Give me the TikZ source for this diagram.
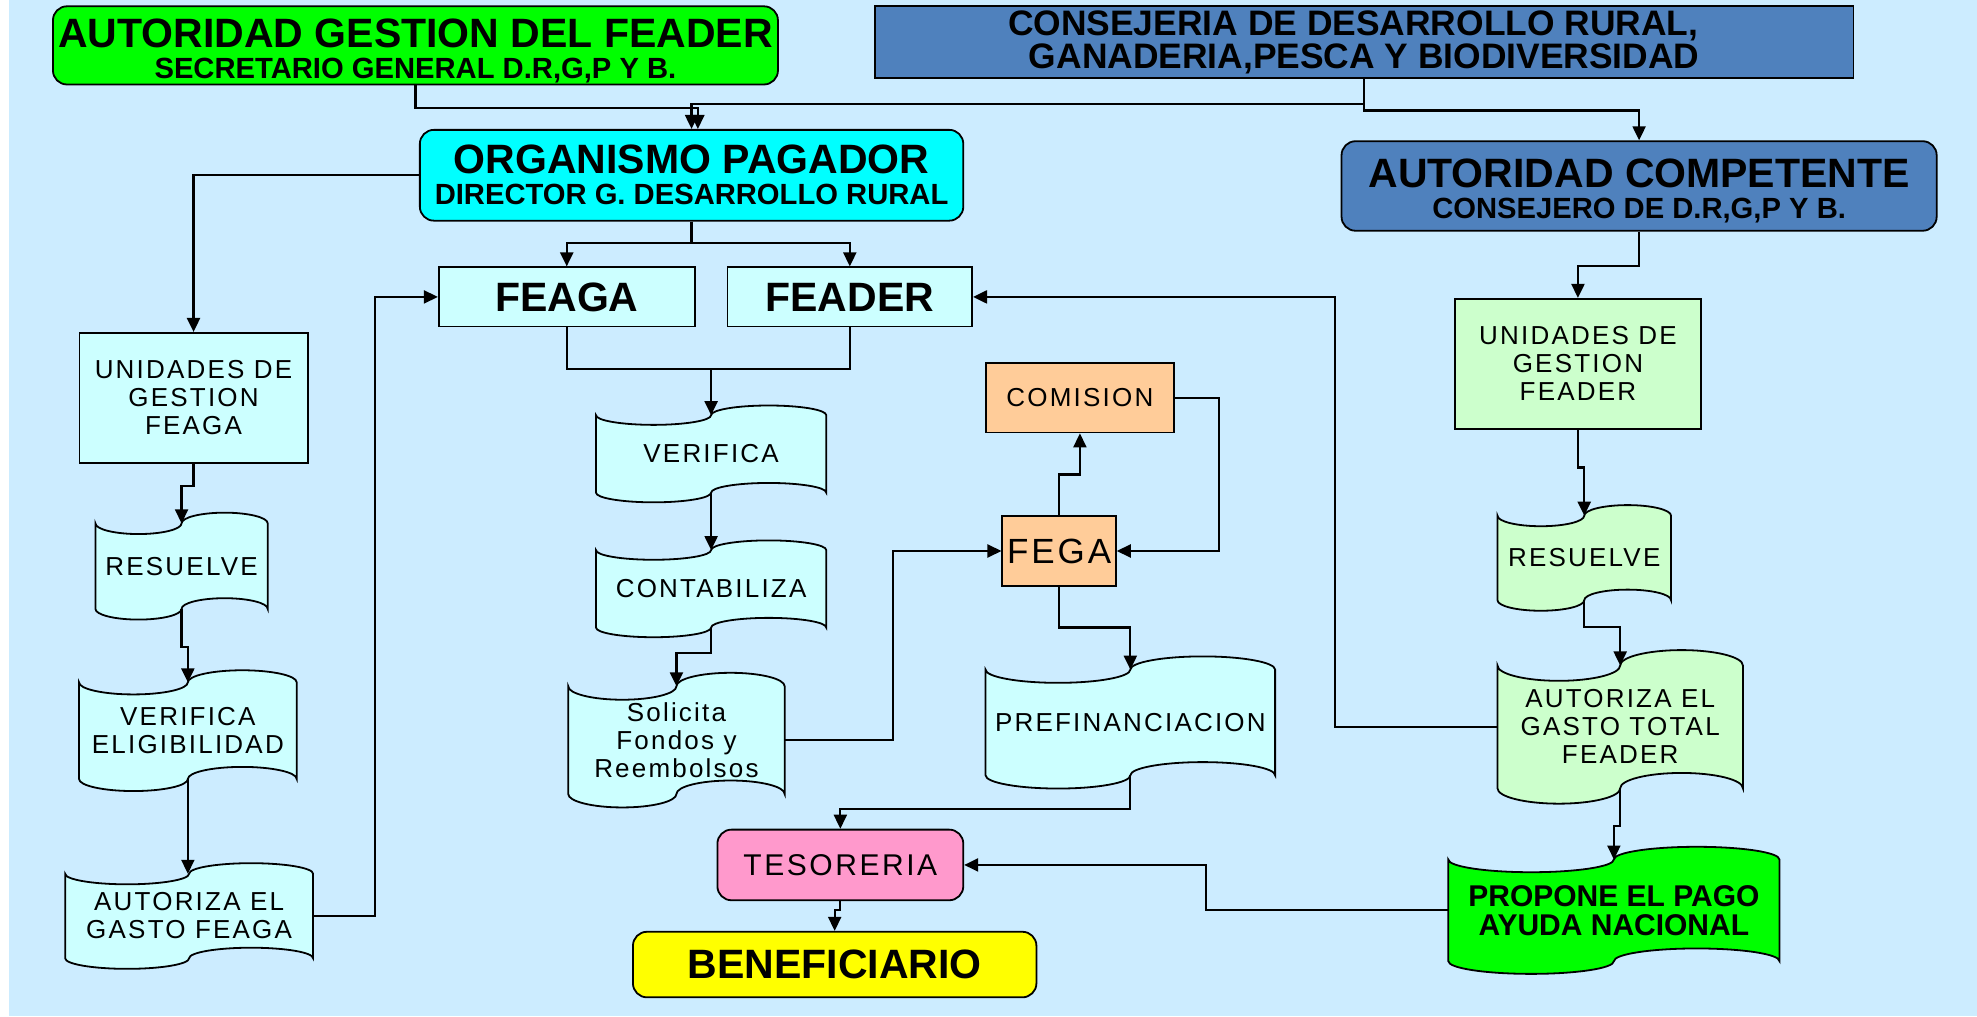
\documentclass[tikz,border=0pt]{standalone}
\usepackage{fontspec}
\setmainfont{Liberation Sans}
\newfontfamily\reg[LetterSpace=8.5]{Liberation Sans}
\usetikzlibrary{arrows.meta,calc}
\definecolor{bgblue}{HTML}{CCECFF}
\definecolor{ltcyan}{HTML}{CCFFFF}
\definecolor{ltgreen}{HTML}{CCFFCC}
\definecolor{peach}{HTML}{FFCC99}
\definecolor{pinkc}{HTML}{FF99CC}
\definecolor{steel}{HTML}{4F81BD}
\definecolor{brgreen}{HTML}{00FF00}
\definecolor{brcyan}{HTML}{00FFFF}
\definecolor{bryellow}{HTML}{FFFF00}
\newlength\px \setlength\px{0.6305pt}
\pgfdeclarelayer{bg}\pgfdeclarelayer{shapes}
\pgfsetlayers{bg,shapes,main}
\newcommand\subt{\fontsize{14.6}{14.6}\selectfont}
\newcommand\tape[2]{%
  \path[draw=black, line width=0.9pt, fill=#2] let \p1=(#1.north west), \p2=(#1.south east),
   \n1={(\x2-\x1)/4}, \n2={(\y1-\y2)/8} in
   (\x1,\y1) arc[start angle=180, end angle=360, x radius=\n1, y radius=\n2]
   arc[start angle=180, end angle=0, x radius=\n1, y radius=\n2]
   -- (\x2,\y2)
   arc[start angle=0, end angle=180, x radius=\n1, y radius=\n2]
   arc[start angle=0, end angle=-180, x radius=\n1, y radius=\n2]
   -- cycle;}
\tikzset{
 area/.style n args={4}{at={({(#1+#3)/2},{(#2+#4)/2})},
   minimum width={(#3-#1)*0.6305pt}, minimum height={(#4-#2)*0.6305pt}},
 box/.style={draw=black, line width=0.9pt, inner sep=0pt, align=center},
 rbox/.style={box, rounded corners=7pt},
 tapenode/.style={inner sep=0pt, align=center},
 conn/.style={draw=black, line width=1.1pt, -{Triangle[length=7pt,width=6.5pt]}},
 plain/.style={draw=black, line width=1.1pt},
 regtext/.style={font=\reg\fontsize{13}{14}\selectfont},
 title/.style={font=\bfseries\fontsize{20.5}{20.5}\selectfont},
}
\begin{document}
\begin{tikzpicture}[x=0.6305pt, y=-0.6305pt]
\useasboundingbox (0,0) rectangle (1568,806);
\begin{pgfonlayer}{bg}
\fill[white] (0,0) rectangle (1568,806);
\fill[bgblue] (7,0) rectangle (1568,806);
\end{pgfonlayer}

% top boxes
\node[rbox, fill=brgreen, area={42}{5}{617}{67}, title] (ag)
  {\rule{0pt}{19.7pt}AUTORIDAD GESTION DEL FEADER\\[-5pt]{\subt SECRETARIO GENERAL D.R,G,P Y B.}};
\node[box, fill=steel, area={694}{5}{1470}{62}, font=\bfseries\fontsize{17.7}{16.4}\selectfont] (cons)
  {CONSEJERIA DE DESARROLLO RURAL,\hspace*{11pt}\\GANADERIA,PESCA Y BIODIVERSIDAD};
\node[rbox, fill=brcyan, area={333}{103}{764}{175}, title] (org)
  {ORGANISMO PAGADOR\\[-5pt]{\subt DIRECTOR G. DESARROLLO RURAL}};
\node[rbox, fill=steel, area={1064}{112}{1536}{183}, title] (ac)
  {\rule{0pt}{19.7pt}AUTORIDAD COMPETENTE\\[-5pt]{\subt CONSEJERO DE D.R,G,P Y B.}};

\node[box, fill=ltcyan, area={348}{212}{551}{259}, title] (feaga) {FEAGA};
\node[box, fill=ltcyan, area={577}{212}{771}{259}, title] (feader) {FEADER};

% left column
\node[box, fill=ltcyan, area={63}{264}{244}{367}, regtext] (uf) {UNIDADES DE\\GESTION\\FEAGA};
\node[tapenode, area={76}{415.4}{212}{482.6}, regtext] (res1) {RESUELVE};
\node[tapenode, area={63}{541.5}{235}{617.5}, regtext] (ve) {VERIFICA\\ELIGIBILIDAD};
\node[tapenode, area={52}{693.3}{248}{759.7}, regtext] (af) {AUTORIZA EL\\GASTO FEAGA};

% middle column
\node[tapenode, area={473}{329.6}{655}{390.4}, regtext] (ver) {VERIFICA};
\node[tapenode, area={473}{436.6}{655}{497.4}, regtext] (con) {CONTABILIZA};
\node[tapenode, area={451}{544.6}{622}{629.4}, regtext] (sol) {Solicita\\Fondos y\\Reembolsos};
\node[box, fill=peach, area={782}{288}{931}{343}, regtext] (com) {COMISION};
\node[box, fill=peach, area={795}{409}{885}{465}, font=\reg\fontsize{17.5}{19}\selectfont] (fega) {FEGA};
\node[tapenode, area={782}{531.4}{1011}{614.6}, regtext] (pre) {PREFINANCIACION};
\node[rbox, fill=pinkc, area={569}{658}{764}{714}, font=\reg\fontsize{15}{17}\selectfont] (tes) {TESORERIA};
\node[rbox, fill=bryellow, area={502}{739}{822}{791}, title] (ben) {BENEFICIARIO};

% right column
\node[box, fill=ltgreen, area={1154}{237}{1349}{340}, regtext] (ufd) {UNIDADES DE\\GESTION\\FEADER};
\node[tapenode, area={1188}{409.3}{1325}{475.7}, regtext] (res2) {RESUELVE};
\node[tapenode, area={1188}{528.1}{1382}{624.9}, regtext] (agt) {AUTORIZA EL\\GASTO TOTAL\\FEADER};
\node[tapenode, area={1149}{682}{1411}{762}, font=\bfseries\fontsize{15}{14.5}\selectfont] (prop) {PROPONE EL PAGO\\AYUDA NACIONAL};

\begin{pgfonlayer}{shapes}
\tape{res1}{ltcyan}
\tape{ve}{ltcyan}
\tape{af}{ltcyan}
\tape{ver}{ltcyan}
\tape{con}{ltcyan}
\tape{sol}{ltcyan}
\tape{pre}{ltcyan}
\tape{res2}{ltgreen}
\tape{agt}{ltgreen}
\tape{prop}{brgreen}
\end{pgfonlayer}

% connectors
\draw[conn] (ag.south) -- ++(0,18) -| ([xshift=5\px]org.north);
\draw[conn] (cons.south) -- ++(0,20) -| (org.north);
\draw[conn] (cons.south) -- ++(0,25) -| (ac.north);
\draw[conn] (org.west) -| (uf.north);
\draw[conn] (org.south) -- ++(0,17) -| (feaga.north);
\draw[conn] (org.south) -- ++(0,17) -| (feader.north);
\draw[plain] (feaga.south) -- ++(0,33) -| (feader.south);
\draw[conn] ($(feaga.south)+(0,33)$) -| (ver.north);
\draw[conn] (ver.south) -- (con.north);
\draw[conn] (con.south) -- ++(0,20) -| (sol.north);
\draw[conn] (sol.east) -- ++(86,0) |- (fega.west);
\draw[conn] (fega.north) -- ++(0,-32) -| (com.south);
\draw[conn] (com.east) -- ++(35,0) |- (fega.east);
\draw[conn] (fega.south) -- ++(0,32) -| (pre.north);
\draw[conn] (pre.south) -- ++(0,26.4) -| (tes.north);
\draw[conn] (tes.south) -- ++(0,7) -| (ben.north);
\draw[conn] (af.east) -- ++(49,0) |- (feaga.west);
\draw[conn] (uf.south) -- ++(0,18) -| (res1.north);
\draw[conn] (res1.south) -- ++(0,30) -| (ve.north);
\draw[conn] (ve.south) -- (ve.south |- af.north);
\draw[conn] (ac.south) -- ++(0,27) -| (ufd.north);
\draw[conn] (ufd.south) -- ++(0,30) -| (res2.north);
\draw[conn] (res2.south) -- ++(0,21) -| (agt.north);
\draw[conn] (agt.south) -- ++(0,30) -| (prop.north);
\draw[conn] (agt.west) -- ++(-129,0) |- (feader.east);
\draw[conn] (prop.west) -- ++(-192,0) |- (tes.east);
\end{tikzpicture}
\end{document}
